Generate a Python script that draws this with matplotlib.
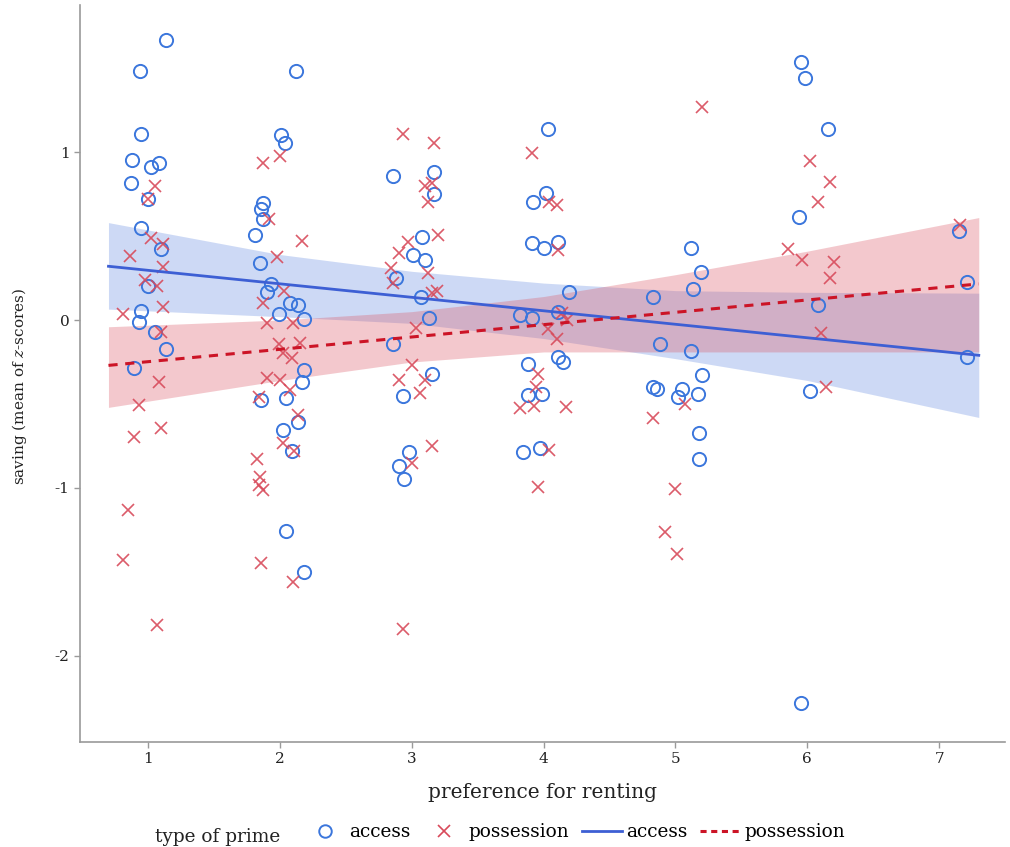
import matplotlib
matplotlib.use("Agg")
import matplotlib.pyplot as plt
from matplotlib.lines import Line2D

# ─────────────────────────────────────────────────────────────────────────────
# Data
# ─────────────────────────────────────────────────────────────────────────────
access_x = [1.14, 0.94, 0.95, 0.88, 1.08, 1.02, 0.87, 1.00, 0.95, 1.10, 1.00, 0.95, 0.93, 1.05, 1.14, 0.89,
            2.12, 2.01, 2.04, 1.87, 1.86, 1.87, 1.81, 1.85, 1.93, 1.90, 2.08, 2.14, 1.99, 2.18, 2.18, 2.17,
            1.86, 2.05, 2.14, 2.02, 2.09, 2.05, 2.18,
            2.86, 3.17, 3.17, 3.08, 3.01, 3.10, 2.88, 3.07, 3.13, 2.86, 3.15, 2.93, 2.98, 2.90, 2.94,
            4.03, 4.02, 3.92, 3.91, 4.00, 4.11, 4.19, 3.82, 3.91, 4.11, 4.11, 4.15, 3.88, 3.88, 3.99,
            3.84, 3.97,
            5.12, 5.19, 5.135, 4.83, 4.88, 5.12, 5.20, 4.83, 4.86, 5.05, 5.17, 5.02, 5.18, 5.18,
            5.95, 5.98, 6.16, 5.94, 6.08, 6.02, 5.95,
            7.15, 7.21, 7.21]
access_y = [1.67, 1.48, 1.11, 0.95, 0.935, 0.91, 0.815, 0.72, 0.55, 0.42, 0.20, 0.055, -0.01, -0.07, -0.17, -0.285,
            1.48, 1.10, 1.055, 0.695, 0.66, 0.60, 0.505, 0.34, 0.215, 0.165, 0.10, 0.09, 0.035, 0.005, -0.30, -0.37,
            -0.475, -0.465, -0.605, -0.655, -0.78, -1.255, -1.50,
            0.855, 0.88, 0.75, 0.495, 0.39, 0.36, 0.25, 0.14, 0.01, -0.14, -0.32, -0.455, -0.785, -0.87, -0.945,
            1.135, 0.755, 0.70, 0.46, 0.43, 0.465, 0.165, 0.03, 0.01, 0.045, -0.22, -0.25, -0.26, -0.445, -0.44,
            -0.785, -0.76,
            0.43, 0.285, 0.185, 0.135, -0.14, -0.185, -0.325, -0.40, -0.41, -0.41, -0.44, -0.46, -0.67, -0.83,
            1.535, 1.44, 1.14, 0.615, 0.09, -0.42, -2.28,
            0.53, 0.225, -0.22]

possession_x = [1.05, 1.00, 1.02, 1.11, 0.86, 1.11, 0.98, 1.07, 1.11, 0.81, 1.10, 1.08, 0.93, 1.10, 0.89,
                0.85, 0.81, 1.07,
                1.87, 2.00, 1.92, 2.17, 1.98, 2.03, 1.87, 1.90, 2.10, 1.99, 2.15, 2.02, 2.09, 1.90, 2.00,
                2.08, 1.84, 2.14, 2.02, 2.11, 1.83, 1.85, 1.84, 1.87, 1.86, 2.10,
                2.93, 3.17, 3.10, 3.15, 3.12, 3.20, 2.97, 2.90, 2.84, 3.12, 2.86, 3.15, 3.19, 3.03, 3.00,
                2.90, 3.10, 3.06, 3.15, 3.00, 2.93,
                3.91, 4.04, 4.10, 4.11, 4.14, 4.18, 4.03, 4.10, 3.96, 3.94, 3.82, 3.93, 4.17, 4.04, 3.96,
                5.20, 5.07, 4.83, 4.92, 5.00, 5.01,
                6.02, 6.17, 6.08, 5.85, 5.96, 6.20, 6.17, 6.10, 6.14,
                7.16]
possession_y = [0.80, 0.72, 0.49, 0.45, 0.38, 0.315, 0.24, 0.20, 0.075, 0.035, -0.07, -0.37, -0.505, -0.64, -0.695,
                -1.13, -1.43, -1.815,
                0.935, 0.975, 0.60, 0.47, 0.375, 0.175, 0.10, -0.02, -0.02, -0.145, -0.135, -0.195, -0.225,
                -0.345, -0.355, -0.415, -0.46, -0.565, -0.73, -0.78, -0.83, -0.935, -0.98, -1.01, -1.445, -1.56,
                1.11, 1.055, 0.80, 0.815, 0.70, 0.505, 0.465, 0.40, 0.31, 0.28, 0.22, 0.16, 0.17, -0.05, -0.27,
                -0.355, -0.355, -0.435, -0.75, -0.85, -1.84,
                0.995, 0.70, 0.685, 0.415, 0.04, 0.0, -0.055, -0.115, -0.32, -0.40, -0.525, -0.51, -0.52,
                -0.775, -0.995,
                1.27, -0.50, -0.585, -1.26, -1.005, -1.39,
                0.945, 0.82, 0.70, 0.42, 0.36, 0.345, 0.25, -0.075, -0.40,
                0.565]

# fitted lines and confidence bands
fit_x = [0.7, 7.3]
access_fit = [0.32, -0.21]
possession_fit = [-0.27, 0.215]

band_x = [0.7, 2, 3, 4, 5, 6, 7.3]
access_lo = [0.065, 0.02, -0.02, -0.11, -0.23, -0.36, -0.58]
access_hi = [0.58, 0.39, 0.29, 0.22, 0.175, 0.165, 0.16]
possession_lo = [-0.52, -0.36, -0.25, -0.19, -0.19, -0.19, -0.19]
possession_hi = [-0.04, 0.0, 0.05, 0.14, 0.27, 0.41, 0.61]

x_ticks = [1, 2, 3, 4, 5, 6, 7]
y_ticks = [-2, -1, 0, 1]

# ─────────────────────────────────────────────────────────────────────────────
# Style
# ─────────────────────────────────────────────────────────────────────────────
BLUE_PT = "#3b76dc"
RED_PT = "#d84a5a"
BLUE_LN = "#3d5fd4"
RED_LN = "#cc1426"
AXIS_C = "#9a9a9a"
TEXT_C = "#222222"

plt.rcParams["font.family"] = ["DejaVu Serif"]
plt.rcParams["mathtext.fontset"] = "dejavuserif"
plt.rcParams["axes.unicode_minus"] = False

fig = plt.figure(figsize=(10.1, 8.47), dpi=100)
ax = fig.add_axes([0.0792, 0.124, 0.916, 0.870])

# bands
ax.fill_between(band_x, access_lo, access_hi, color="#5b84e0", alpha=0.30, linewidth=0)
ax.fill_between(band_x, possession_lo, possession_hi, color="#dc5a68", alpha=0.33, linewidth=0)

# points
ax.plot(access_x, access_y, linestyle="none", marker="o", markersize=9.5,
        markerfacecolor="none", markeredgecolor=BLUE_PT, markeredgewidth=1.4)
ax.plot(possession_x, possession_y, linestyle="none", marker="x", markersize=8,
        markeredgecolor=RED_PT, markeredgewidth=1.2, alpha=0.9)

# regression lines
ax.plot(fit_x, access_fit, color=BLUE_LN, linewidth=2.0)
ax.plot(fit_x, possession_fit, color=RED_LN, linewidth=2.2, linestyle=(0, (3, 2.5)))

ax.set_xlim(0.484, 7.5)
ax.set_ylim(-2.512, 1.875)
ax.set_xticks(x_ticks)
ax.set_yticks(y_ticks)
ax.tick_params(colors=AXIS_C, labelcolor=TEXT_C, labelsize=11, length=4, width=1)

for side in ("top", "right"):
    ax.spines[side].set_visible(False)
for side in ("left", "bottom"):
    ax.spines[side].set_color(AXIS_C)
    ax.spines[side].set_linewidth(1.2)

ax.set_xlabel("preference for renting", fontsize=14.5, color=TEXT_C, labelpad=12)
ax.set_ylabel("saving (mean of $z$-scores)", fontsize=11, color=TEXT_C)
ax.yaxis.set_label_coords(-0.055, 0.482)

# legend along the bottom
fig.text(155 / 1010, 1 - 837 / 847, "type of prime", fontsize=13.3, color=TEXT_C,
         va="center", ha="left")
handles = [
    Line2D([], [], linestyle="none", marker="o", markersize=9, markerfacecolor="none",
           markeredgecolor=BLUE_PT, markeredgewidth=1.4),
    Line2D([], [], linestyle="none", marker="x", markersize=8, markeredgecolor=RED_PT,
           markeredgewidth=1.2),
    Line2D([], [], color=BLUE_LN, linewidth=2.0),
    Line2D([], [], color=RED_LN, linewidth=2.2, linestyle=(0, (2, 1.5))),
]
fig.legend(handles, ["access", "possession", "access", "possession"],
           loc="center left", bbox_to_anchor=(305 / 1010, 1 - 832 / 847),
           ncol=4, frameon=False, fontsize=13.3, handlelength=2.2,
           handletextpad=0.2, columnspacing=0.7, borderpad=0, borderaxespad=0)

fig.savefig("out.png", dpi=100)
